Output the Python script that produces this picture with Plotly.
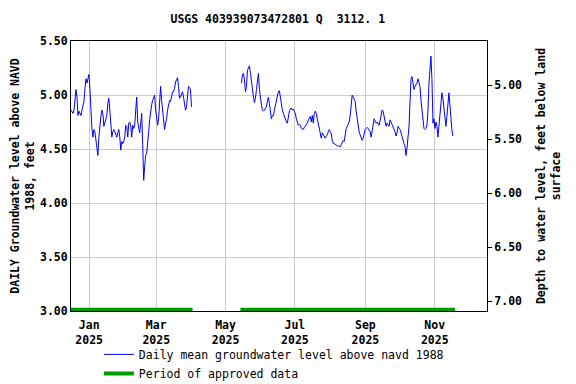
import pandas as pd
import plotly.graph_objects as go

# ---- data ----
seg1_start, seg1_end = "2024-12-16", "2025-04-01"
seg1_levels = [4.86, 4.85, 4.83, 4.86, 4.98, 5.05, 4.98, 4.81, 4.85, 4.83, 4.81, 4.86, 4.89, 4.94, 5.06,
               5.15, 5.11, 5.15, 5.19, 5.06, 4.83, 4.69, 4.61, 4.68, 4.66, 4.58, 4.54, 4.44, 4.61, 4.75,
               4.80, 4.86, 4.83, 4.71, 4.75, 4.77, 4.81, 4.92, 4.97, 4.86, 4.68, 4.61, 4.66, 4.68, 4.66,
               4.62, 4.61, 4.65, 4.68, 4.61, 4.49, 4.57, 4.55, 4.57, 4.61, 4.72, 4.71, 4.61, 4.74, 4.75,
               4.71, 4.61, 4.72, 4.69, 4.72, 4.86, 4.98, 4.75, 4.68, 4.65, 4.74, 4.83, 4.54, 4.21, 4.34,
               4.44, 4.46, 4.54, 4.66, 4.77, 4.86, 4.91, 4.95, 4.98, 5.00, 4.86, 4.77, 4.72, 4.78, 4.91,
               5.08, 4.95, 4.86, 4.75, 4.68, 4.74, 4.78, 4.86, 4.92, 4.95, 4.94, 4.98, 5.03, 5.03, 5.06,
               5.12, 5.15, 5.16, 5.08, 4.97, 4.98, 5.02, 5.03, 4.98, 4.92, 4.86, 4.89, 4.98, 5.08, 5.07,
               5.05, 4.89]

seg2_start, seg2_end = "2025-05-15", "2025-11-17"
seg2_levels = [5.11, 5.19, 5.20, 5.14, 5.03, 5.08, 5.23, 5.26, 5.27, 5.20, 5.11, 5.05, 4.98, 4.93, 4.97,
               5.05, 5.12, 5.20, 5.05, 4.95, 4.91, 4.86, 4.85, 4.86, 4.88, 4.89, 4.94, 4.98, 4.92, 4.85,
               4.78, 4.81, 4.81, 4.86, 4.91, 4.95, 4.98, 5.03, 5.04, 4.98, 4.88, 4.86, 4.83, 4.80, 4.77,
               4.75, 4.74, 4.80, 4.85, 4.87, 4.88, 4.86, 4.87, 4.85, 4.83, 4.78, 4.74, 4.72, 4.73, 4.72,
               4.69, 4.68, 4.68, 4.70, 4.71, 4.72, 4.74, 4.77, 4.78, 4.80, 4.75, 4.81, 4.74, 4.83, 4.85,
               4.83, 4.78, 4.74, 4.69, 4.66, 4.60, 4.65, 4.63, 4.61, 4.60, 4.62, 4.63, 4.66, 4.68, 4.66,
               4.64, 4.58, 4.55, 4.55, 4.54, 4.54, 4.53, 4.53, 4.52, 4.52, 4.54, 4.56, 4.58, 4.57, 4.65,
               4.69, 4.71, 4.73, 4.75, 4.81, 4.89, 5.00, 4.98, 4.95, 4.94, 4.85, 4.78, 4.68, 4.66, 4.63,
               4.61, 4.58, 4.60, 4.65, 4.68, 4.69, 4.70, 4.69, 4.68, 4.66, 4.61, 4.68, 4.74, 4.78, 4.76,
               4.74, 4.75, 4.73, 4.72, 4.76, 4.80, 4.86, 4.85, 4.79, 4.73, 4.71, 4.74, 4.73, 4.71, 4.77,
               4.75, 4.72, 4.71, 4.68, 4.66, 4.62, 4.65, 4.71, 4.70, 4.68, 4.65, 4.61, 4.58, 4.55, 4.52,
               4.44, 4.51, 4.60, 4.71, 4.94, 5.15, 5.17, 5.11, 5.05, 5.08, 5.09, 5.11, 5.15, 5.11, 5.08,
               4.95, 4.85, 4.75, 4.69, 4.68, 4.69, 4.72, 4.86, 5.11, 5.29, 5.36, 5.14, 4.74, 4.78, 4.69,
               4.75, 4.71, 4.61, 4.71, 4.83, 4.92, 5.02, 4.97, 4.86, 4.77, 4.71, 4.80, 4.93, 5.02, 4.91,
               4.75, 4.68, 4.62]

approved_periods = [("2024-12-10", "2025-04-02"), ("2025-05-14", "2025-11-19")]
approved_level = 3.012

tick_dates = ["2025-01-01", "2025-03-01", "2025-05-01", "2025-07-01", "2025-09-01", "2025-11-01"]
tick_labels = ["Jan<br>2025", "Mar<br>2025", "May<br>2025", "Jul<br>2025", "Sep<br>2025", "Nov<br>2025"]
left_ticks = [3.0, 3.5, 4.0, 4.5, 5.0, 5.5]
right_ticks = [5.0, 5.5, 6.0, 6.5, 7.0]
datum_offset = 10.09  # depth = offset - level
y_range = [3.0, 5.5]
x_range = ["2024-12-16", "2025-12-17"]

FONT = "DejaVu Sans Mono"
fs = 11.5

fig = go.Figure()

d1 = pd.date_range(seg1_start, seg1_end, periods=len(seg1_levels))
d2 = pd.date_range(seg2_start, seg2_end, periods=len(seg2_levels))
xs = list(d1) + [None] + list(d2)
ys = seg1_levels + [None] + seg2_levels
fig.add_trace(go.Scatter(x=xs, y=ys, mode="lines", line=dict(color="#0000ff", width=1),
                         name="Daily mean groundwater level above navd 1988", connectgaps=False))

ax, ay = [], []
for s, e in approved_periods:
    ax += [s, e, None]
    ay += [approved_level, approved_level, None]
fig.add_trace(go.Scatter(x=ax, y=ay, mode="lines", line=dict(color="#009900", width=4),
                         name="Period of approved data"))

# invisible trace for right axis
fig.add_trace(go.Scatter(x=[x_range[0]], y=[datum_offset - 5.0], yaxis="y2", mode="lines",
                         showlegend=False, hoverinfo="skip", line=dict(width=0)))

fig.update_layout(
    width=568, height=376,
    margin=dict(l=63, r=89, t=33, b=73, autoexpand=False),
    paper_bgcolor="white", plot_bgcolor="white",
    font=dict(family=FONT, size=fs, color="black"),
    title=dict(text="<b>USGS 403939073472801 Q  3112. 1</b>", x=0.475, xanchor="center",
               y=0.971, yanchor="middle", font=dict(family=FONT, size=fs)),
    xaxis=dict(range=x_range, tickvals=tick_dates, ticktext=["<b>" + t.replace("<br>", "</b><br><b>") + "</b>" for t in tick_labels],
               showgrid=True, gridcolor="#cccccc", gridwidth=1, showline=True, linecolor="black",
               linewidth=1, mirror=True, ticks="", zeroline=False, tickfont=dict(size=fs),
               ticklabelstandoff=3),
    yaxis=dict(range=y_range, tickvals=left_ticks, ticktext=["<b>%.2f</b>" % v for v in left_ticks],
               showgrid=True, gridcolor="#cccccc", gridwidth=1, showline=True, linecolor="black",
               linewidth=1, mirror=True, ticks="", zeroline=False,
               title=dict(text="<b>DAILY Groundwater level above NAVD<br>1988, feet</b>", standoff=9,
                          font=dict(size=fs))),
    yaxis2=dict(overlaying="y", side="right", range=[datum_offset - y_range[0], datum_offset - y_range[1]],
                tickvals=right_ticks, ticktext=["<b>%.2f</b>" % v for v in right_ticks],
                showgrid=False, ticks="outside", ticklen=4, tickcolor="black", zeroline=False,
                showline=False,
                title=dict(text="<b>Depth to water level, feet below land<br>surface</b>", standoff=15,
                           font=dict(size=fs))),
    legend=dict(x=0.067, y=-0.107, xanchor="left", yanchor="top",
                orientation="v", bgcolor="rgba(0,0,0,0)", font=dict(size=fs), tracegroupgap=0, itemwidth=30),
    showlegend=True,
)

fig.write_html("out.html")
